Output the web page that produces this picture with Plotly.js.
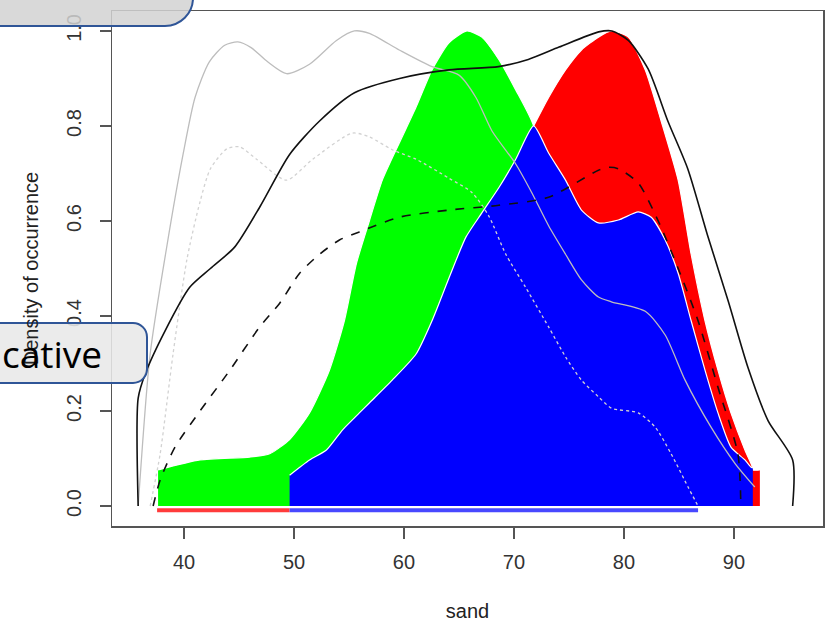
<!DOCTYPE html>
<html>
<head>
<meta charset="utf-8">
<script src="https://cdn.plot.ly/plotly-3.0.1.min.js"></script>
<style>html,body{margin:0;padding:0;background:#fff;}#chart{width:827px;height:627px;}</style>
</head>
<body>
<div id="chart"></div>
<script>
// ---- data ----
const xTicks = [40, 50, 60, 70, 80, 90];
const yTicks = [0, 0.2, 0.4, 0.6, 0.8, 1.0];
const yTickText = ['0.0', '0.2', '0.4', '0.6', '0.8', '1.0'];

const greenX = [37.64, 41.45, 45.98, 47.79, 49.60, 51.41, 53.22, 54.58, 55.67, 56.85, 58.03, 59.57, 61.10, 62.55, 64.09, 65.72, 67.08, 68.62, 70.16, 71.79, 73.0, 75.0, 78.0, 80.0];
const greenY = [0.076, 0.097, 0.103, 0.11, 0.14, 0.196, 0.286, 0.39, 0.51, 0.60, 0.686, 0.764, 0.84, 0.918, 0.975, 1.0, 0.987, 0.94, 0.876, 0.80, 0.62, 0.40, 0.15, 0.03];

const redX = [71.79, 73.15, 74.69, 76.14, 77.68, 78.86, 80.40, 81.94, 83.39, 84.93, 86.11, 87.37, 88.55, 89.73, 91.00, 91.54, 91.72, 91.75, 92.36];
const redY = [0.80, 0.86, 0.918, 0.96, 0.987, 1.0, 0.987, 0.918, 0.81, 0.686, 0.53, 0.39, 0.286, 0.196, 0.118, 0.09, 0.08, 0.076, 0.076];

const blueX = [49.60, 51.41, 52.95, 54.40, 55.94, 56.85, 58.93, 61.10, 62.55, 64.09, 65.63, 67.08, 68.62, 70.16, 71.79, 73.15, 74.69, 76.14, 77.68, 79.49, 81.30, 82.48, 83.75, 84.93, 86.11, 87.37, 88.55, 89.73, 91.00, 91.54, 91.72];
const blueY = [0.065, 0.097, 0.118, 0.16, 0.196, 0.217, 0.265, 0.32, 0.39, 0.48, 0.566, 0.617, 0.67, 0.73, 0.80, 0.743, 0.686, 0.623, 0.596, 0.602, 0.619, 0.608, 0.56, 0.49, 0.39, 0.286, 0.196, 0.124, 0.097, 0.082, 0.08];

const blackX = [35.83, 35.83, 36.5, 38.3, 40.5, 42.4, 44.6, 46.9, 49.6, 52.3, 55.5, 59.6, 64.1, 68.6, 71.3, 74.1, 77.7, 78.9, 80.4, 82.2, 84.0, 85.8, 87.6, 89.5, 91.3, 93.1, 95.34, 95.34];
const blackY = [0, 0.227, 0.28, 0.37, 0.46, 0.50, 0.545, 0.63, 0.74, 0.81, 0.87, 0.90, 0.918, 0.925, 0.94, 0.966, 0.998, 1.0, 0.98, 0.92, 0.81, 0.71, 0.57, 0.43, 0.29, 0.18, 0.097, 0];

const blackDashX = [37.19, 37.83, 39.18, 41.45, 44.17, 46.88, 48.70, 50.51, 52.32, 54.13, 55.94, 59.57, 64.09, 68.62, 73.15, 77.68, 78.59, 79.49, 81.30, 83.12, 84.93, 86.74, 88.55, 90.36, 90.63];
const blackDashY = [0, 0.055, 0.124, 0.20, 0.286, 0.377, 0.427, 0.49, 0.53, 0.56, 0.577, 0.608, 0.623, 0.633, 0.65, 0.707, 0.713, 0.71, 0.68, 0.60, 0.50, 0.39, 0.25, 0.11, 0];

const greyX = [35.83, 36.92, 38.46, 39.91, 41.0, 42.3, 43.7, 44.9, 46.1, 47.6, 49.33, 51.41, 53.86, 55.49, 56.85, 59.57, 62.55, 65.0, 66.54, 67.99, 70.16, 71.61, 73.15, 74.69, 76.14, 77.68, 78.86, 81.94, 83.75, 85.56, 87.92, 90.09, 91.90];
const greyY = [0, 0.32, 0.55, 0.74, 0.86, 0.935, 0.97, 0.977, 0.965, 0.935, 0.91, 0.93, 0.98, 1.0, 0.995, 0.96, 0.925, 0.907, 0.86, 0.79, 0.72, 0.66, 0.59, 0.53, 0.476, 0.44, 0.43, 0.41, 0.36, 0.265, 0.166, 0.09, 0.04];

const greyDashX = [36.92, 37.83, 39.0, 40.27, 41.45, 42.4, 43.9, 45.07, 46.6, 49.3, 51.7, 55.3, 56.85, 58.93, 61.10, 64.09, 66.18, 67.72, 69.26, 71.07, 73.15, 74.69, 76.14, 77.68, 78.86, 81.30, 82.84, 84.29, 85.83, 86.74];
const greyDashY = [0, 0.11, 0.32, 0.52, 0.64, 0.71, 0.752, 0.756, 0.73, 0.686, 0.73, 0.785, 0.777, 0.75, 0.73, 0.69, 0.66, 0.61, 0.53, 0.46, 0.377, 0.314, 0.265, 0.23, 0.206, 0.196, 0.166, 0.11, 0.04, 0];

const redRugX = [37.55, 49.6];
const blueRugX = [49.6, 86.74];
const rugY = -0.009;

// ---- traces ----
const fillTrace = (x, y, color) => ({
  x: x, y: y, type: 'scatter', mode: 'lines', fill: 'tozeroy',
  fillcolor: color, line: {color: '#ffffff', width: 1.2, shape: 'spline', smoothing: 0.6},
  hoverinfo: 'skip', showlegend: false
});
const lineTrace = (x, y, color, dash, width) => ({
  x: x, y: y, type: 'scatter', mode: 'lines',
  line: {color: color, width: width, dash: dash, shape: 'spline', smoothing: 0.7},
  hoverinfo: 'skip', showlegend: false
});

const data = [
  fillTrace(greenX, greenY, '#00ff00'),
  fillTrace(redX, redY, '#ff0000'),
  fillTrace(blueX, blueY, '#0000ff'),
  {x: redRugX, y: redRugX.map(() => rugY), type: 'scatter', mode: 'lines', line: {color: '#ff3b3b', width: 4}, hoverinfo: 'skip', showlegend: false},
  {x: blueRugX, y: blueRugX.map(() => rugY), type: 'scatter', mode: 'lines', line: {color: '#4848ff', width: 4}, hoverinfo: 'skip', showlegend: false},
  lineTrace(greyX, greyY, '#bdbdbd', 'solid', 1.3),
  lineTrace(greyDashX, greyDashY, '#d2d2d2', 'dot', 1.3),
  lineTrace(blackDashX, blackDashY, '#111111', 'dash', 1.6),
  lineTrace(blackX, blackY, '#111111', 'solid', 1.6)
];

// ---- overlay boxes (pixel -> paper helpers) ----
const L = 112, R = 823, T = 11, B = 526;
const fx = px => (px - L) / (R - L);
const fy = py => (B - py) / (B - T);
function roundBox(x0, y0, x1, y1, r) {
  const k = 0.5523 * r;
  return 'M ' + fx(x0) + ',' + fy(y0) +
    ' L ' + fx(x1 - r) + ',' + fy(y0) +
    ' C ' + fx(x1 - r + k) + ',' + fy(y0) + ' ' + fx(x1) + ',' + fy(y0 + r - k) + ' ' + fx(x1) + ',' + fy(y0 + r) +
    ' L ' + fx(x1) + ',' + fy(y1 - r) +
    ' C ' + fx(x1) + ',' + fy(y1 - r + k) + ' ' + fx(x1 - r + k) + ',' + fy(y1) + ' ' + fx(x1 - r) + ',' + fy(y1) +
    ' L ' + fx(x0) + ',' + fy(y1) + ' Z';
}

const layout = {
  width: 827, height: 627,
  margin: {l: L, r: 827 - R, t: T, b: 627 - B},
  paper_bgcolor: '#ffffff', plot_bgcolor: '#ffffff',
  font: {family: 'Liberation Sans, Arial, sans-serif', size: 20, color: '#333333'},
  xaxis: {
    range: [33.45, 98.1], tickvals: xTicks, ticks: 'outside', ticklen: 11, tickwidth: 1.3, tickcolor: '#555555',
    showline: true, mirror: true, linecolor: '#555555', linewidth: 1.5,
    showgrid: false, zeroline: false, ticklabelstandoff: 6,
    tickfont: {size: 20, color: '#333333'},
    title: {text: 'sand', font: {size: 20, color: '#222222'}, standoff: 32}
  },
  yaxis: {
    range: [-0.042, 1.042], tickvals: yTicks, ticktext: yTickText, tickangle: -90,
    ticks: 'outside', ticklen: 11, tickwidth: 1.3, tickcolor: '#555555',
    showline: true, mirror: true, linecolor: '#555555', linewidth: 1.5,
    showgrid: false, zeroline: false, ticklabelstandoff: 11,
    tickfont: {size: 20, color: '#333333'},
    title: {text: 'Density of occurrence', font: {size: 20, color: '#222222'}, standoff: 18}
  },
  shapes: [
    {type: 'path', xref: 'paper', yref: 'paper', layer: 'above',
     path: roundBox(-10, -40, 193, 26, 28),
     fillcolor: 'rgba(210,210,210,0.85)', line: {color: '#2f5597', width: 2}},
    {type: 'path', xref: 'paper', yref: 'paper', layer: 'above',
     path: roundBox(-10, 323, 147, 383, 14),
     fillcolor: 'rgba(232,232,232,0.88)', line: {color: '#2f5597', width: 2}}
  ],
  annotations: [
    {xref: 'paper', yref: 'paper', x: fx(104), y: fy(353), xanchor: 'right', yanchor: 'middle',
     text: 'cative', showarrow: false, font: {family: 'Open Sans, sans-serif', size: 37, color: '#000000'}}
  ]
};

Plotly.newPlot('chart', data, layout, {displayModeBar: false, staticPlot: true});
</script>
</body>
</html>
